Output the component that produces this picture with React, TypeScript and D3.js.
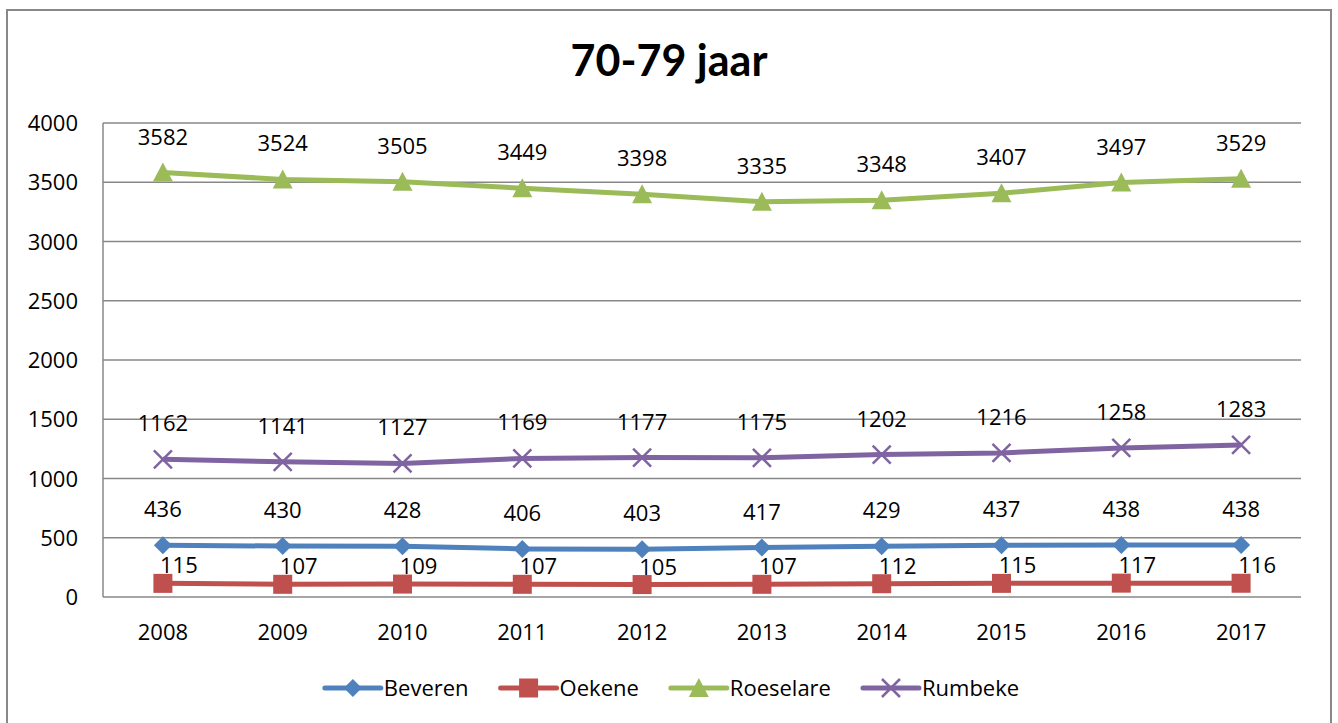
import * as d3 from "d3";
import { useEffect, useRef } from "react";

const years = ["2008", "2009", "2010", "2011", "2012", "2013", "2014", "2015", "2016", "2017"];
const beveren = [436, 430, 428, 406, 403, 417, 429, 437, 438, 438];
const oekene = [115, 107, 109, 107, 105, 107, 112, 115, 117, 116];
const roeselare = [3582, 3524, 3505, 3449, 3398, 3335, 3348, 3407, 3497, 3529];
const rumbeke = [1162, 1141, 1127, 1169, 1177, 1175, 1202, 1216, 1258, 1283];
const yTicks = [0, 500, 1000, 1500, 2000, 2500, 3000, 3500, 4000];

const series = [
  { name: "Beveren", values: beveren, color: "#4F81BD", marker: "diamond", ldx: 0, ldy: -36 },
  { name: "Oekene", values: oekene, color: "#C0504D", marker: "square", ldx: 16, ldy: -18 },
  { name: "Roeselare", values: roeselare, color: "#9BBB59", marker: "triangle", ldx: 0, ldy: -36 },
  { name: "Rumbeke", values: rumbeke, color: "#8064A2", marker: "x", ldx: 0, ldy: -36 },
];

const FONT = "'Open Sans', Lato, sans-serif";
const TITLE_FONT = "Lato, 'Open Sans', sans-serif";

function drawMarker(g: any, kind: string, color: string) {
  if (kind === "diamond") {
    g.append("path").attr("d", "M0,-9L9,0L0,9L-9,0Z").attr("fill", color);
  } else if (kind === "square") {
    g.append("rect").attr("x", -9.5).attr("y", -9.5).attr("width", 19).attr("height", 19).attr("fill", color);
  } else if (kind === "triangle") {
    g.append("path").attr("d", "M0,-10L10,9L-10,9Z").attr("fill", color);
  } else {
    g.append("path").attr("d", "M-9,-9L9,9M-9,9L9,-9").attr("stroke", color).attr("stroke-width", 2.5).attr("fill", "none");
  }
}

const App = () => {
  const ref = useRef<SVGSVGElement | null>(null);

  useEffect(() => {
    const svg = d3.select(ref.current);
    svg.selectAll("*").remove();

    const plot = { left: 103, right: 1301, top: 123, bottom: 597 };

    svg.append("rect")
      .attr("x", 7).attr("y", 10).attr("width", 1324).attr("height", 740)
      .attr("fill", "white").attr("stroke", "#888").attr("stroke-width", 2);

    const x = d3.scalePoint().domain(years).range([plot.left, plot.right]).padding(0.5);
    const y = d3.scaleLinear().domain([0, 4000]).range([plot.bottom, plot.top]);

    // title
    svg.append("text")
      .attr("x", 669).attr("y", 76)
      .attr("text-anchor", "middle")
      .attr("font-family", TITLE_FONT).attr("font-weight", "bold").attr("font-size", 43)
      .text("70-79 jaar");

    // gridlines
    svg.append("g").selectAll("line").data(yTicks).enter().append("line")
      .attr("x1", plot.left).attr("x2", plot.right)
      .attr("y1", d => y(d)).attr("y2", d => y(d))
      .attr("stroke", "#888").attr("stroke-width", 1.5);

    svg.append("line")
      .attr("x1", plot.left).attr("x2", plot.left)
      .attr("y1", plot.top).attr("y2", plot.bottom)
      .attr("stroke", "#888").attr("stroke-width", 1.5);

    // y labels
    svg.append("g").selectAll("text").data(yTicks).enter().append("text")
      .attr("x", 78).attr("y", d => y(d) + 8)
      .attr("text-anchor", "end")
      .attr("font-family", FONT).attr("font-size", 22)
      .text(d => d);

    // x labels
    svg.append("g").selectAll("text").data(years).enter().append("text")
      .attr("x", d => x(d) as number).attr("y", 640)
      .attr("text-anchor", "middle")
      .attr("font-family", FONT).attr("font-size", 22)
      .text(d => d);

    const line = d3.line<number>()
      .x((_, i) => x(years[i]) as number)
      .y(d => y(d));

    series.forEach(s => {
      const g = svg.append("g");
      g.append("path")
        .attr("d", line(s.values))
        .attr("fill", "none").attr("stroke", s.color).attr("stroke-width", 5)
        .attr("stroke-linejoin", "round");
      s.values.forEach((v, i) => {
        const m = g.append("g").attr("transform", `translate(${x(years[i])},${y(v)})`);
        drawMarker(m, s.marker, s.color);
      });
    });

    // data labels
    series.forEach(s => {
      svg.append("g").selectAll("text").data(s.values).enter().append("text")
        .attr("x", (_, i) => (x(years[i]) as number) + s.ldx)
        .attr("y", d => y(d) + s.ldy + 8)
        .attr("text-anchor", "middle")
        .attr("font-family", FONT).attr("font-size", 22)
        .text(d => d);
    });

    // legend
    const legend = svg.append("g");
    const items: any[] = [];
    series.forEach(s => {
      const g = legend.append("g");
      g.append("line").attr("x1", 0).attr("x2", 56).attr("y1", 0).attr("y2", 0)
        .attr("stroke", s.color).attr("stroke-width", 5).attr("stroke-linecap", "round");
      const m = g.append("g").attr("transform", "translate(28,0)");
      drawMarker(m, s.marker, s.color);
      const t = g.append("text").attr("x", 59).attr("y", 8)
        .attr("font-family", FONT).attr("font-size", 22).text(s.name);
      const w = 59 + (t.node() as SVGTextElement).getComputedTextLength();
      items.push({ g, w });
    });
    const gap = 32;
    const total = d3.sum(items, d => d.w) + gap * (items.length - 1);
    let cx = 672 - total / 2;
    items.forEach(it => {
      it.g.attr("transform", `translate(${cx},688)`);
      cx += it.w + gap;
    });
  }, []);

  return (
    <div style={{ position: "fixed", left: 0, top: 0, width: 1338, height: 723, background: "white" }}>
      <svg ref={ref} width={1338} height={723} style={{ display: "block" }} />
    </div>
  );
};

export default App;
